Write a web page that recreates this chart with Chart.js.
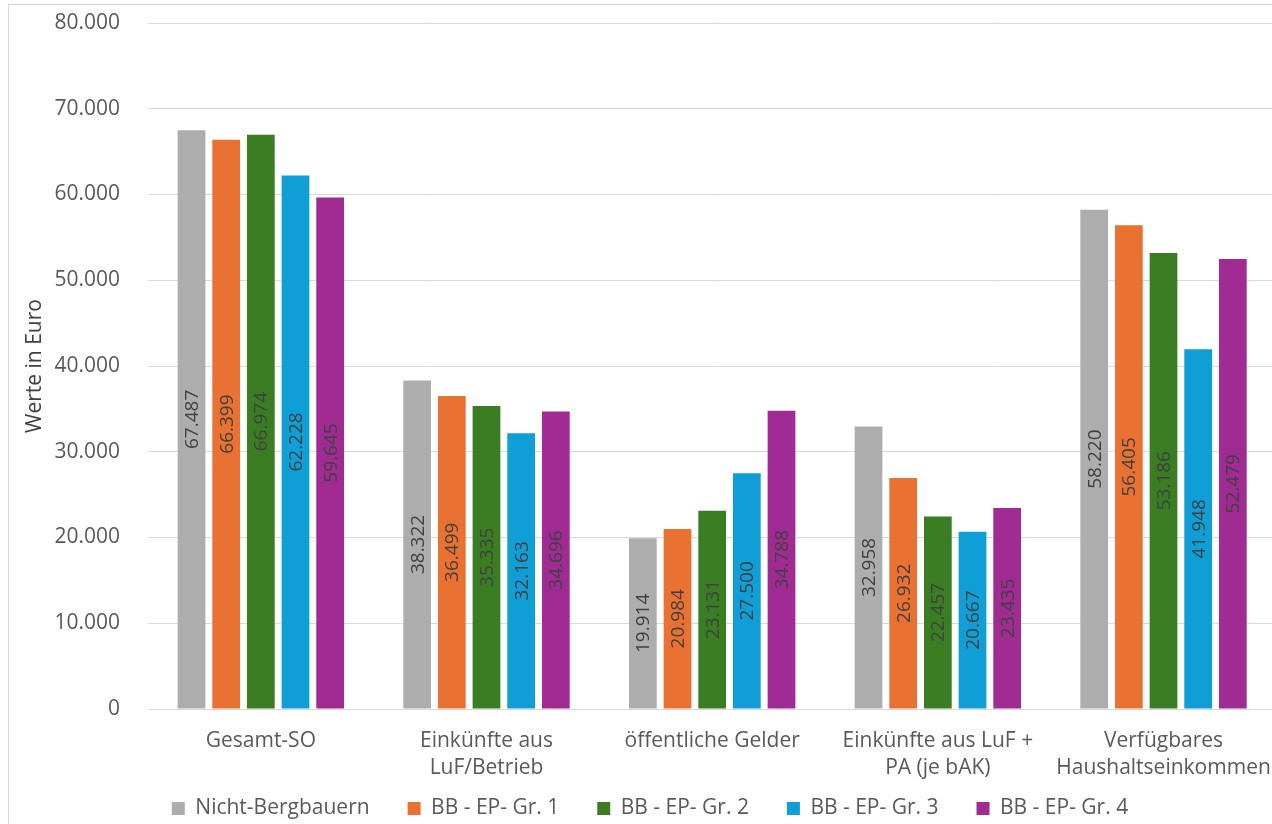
<!DOCTYPE html>
<html>
<head>
<meta charset="utf-8">
<script src="https://cdn.jsdelivr.net/npm/chart.js@4/dist/chart.umd.min.js"></script>
<style>
  html, body { margin: 0; padding: 0; background: #ffffff; overflow: hidden; }
  #wrap { position: relative; width: 1272px; height: 824px; overflow: hidden; background: #fff; }
  #frame { position: absolute; left: 8px; top: 4px; width: 1400px; height: 900px; border: 1px solid #d9d9d9; box-sizing: border-box; }
  #box { position: absolute; left: 0; top: 0; width: 1290px; height: 824px; }
</style>
</head>
<body>
<div id="wrap">
  <div id="frame"></div>
  <div id="box"><canvas id="c" width="1290" height="824"></canvas></div>
</div>
<script>
const categories = [
  "Gesamt-SO",
  ["Einkünfte aus", "LuF/Betrieb"],
  "öffentliche Gelder",
  ["Einkünfte aus LuF +", "PA (je bAK)"],
  ["Verfügbares", "Haushaltseinkommen"]
];
const seriesNames = ["Nicht-Bergbauern", "BB - EP- Gr. 1", "BB - EP- Gr. 2", "BB - EP- Gr. 3", "BB - EP- Gr. 4"];
const nichtBergbauern = [67487, 38322, 19914, 32958, 58220];
const bbGr1 = [66399, 36499, 20984, 26932, 56405];
const bbGr2 = [66974, 35335, 23131, 22457, 53186];
const bbGr3 = [62228, 32163, 27500, 20667, 41948];
const bbGr4 = [59645, 34696, 34788, 23435, 52479];
const seriesColors = ["#ADADAD", "#E97132", "#3B7D23", "#0F9ED5", "#A02B93"];

const FONT = "'Open Sans', 'DejaVu Sans', sans-serif";
function fmt(v) {
  return String(Math.round(v)).replace(/\B(?=(\d{3})+(?!\d))/g, ".");
}

const seriesValues = [nichtBergbauern, bbGr1, bbGr2, bbGr3, bbGr4];

const barLabels = {
  id: 'barLabels',
  afterDatasetsDraw(chart) {
    const ctx = chart.ctx;
    ctx.save();
    ctx.font = "19px " + FONT;
    ctx.fillStyle = "#404040";
    ctx.textAlign = "center";
    ctx.textBaseline = "middle";
    chart.data.datasets.forEach((ds, di) => {
      const meta = chart.getDatasetMeta(di);
      meta.data.forEach((bar, i) => {
        const cy = (bar.y + bar.base) / 2;
        ctx.save();
        ctx.translate(bar.x, cy);
        ctx.rotate(-Math.PI / 2);
        ctx.fillText(fmt(ds.data[i]), 0, 1);
        ctx.restore();
      });
    });
    ctx.restore();
  }
};

new Chart(document.getElementById('c'), {
  type: 'bar',
  data: {
    labels: categories,
    datasets: seriesNames.map((name, k) => ({
      label: name,
      data: seriesValues[k],
      backgroundColor: seriesColors[k],
      borderWidth: 0,
      categoryPercentage: 0.768,
      barPercentage: 0.8
    }))
  },
  options: {
    responsive: false,
    animation: false,
    layout: { padding: { top: 23, right: 12, left: 22, bottom: -5 } },
    plugins: {
      tooltip: { enabled: false },
      legend: {
        position: 'bottom',
        labels: {
          font: { family: FONT, size: 21 },
          color: '#595959',
          boxWidth: 13,
          boxHeight: 13,
          padding: 38
        }
      }
    },
    scales: {
      x: {
        grid: { display: false, drawTicks: false },
        border: { display: true, color: '#d9d9d9', width: 1 },
        ticks: {
          font: { family: FONT, size: 21, lineHeight: 1.29 },
          color: '#595959',
          padding: 18,
          maxRotation: 0,
          minRotation: 0,
          autoSkip: false
        },
        afterFit(scale) {
          scale.height = 51;
          scale._computeLabelArea = () => undefined;
        }
      },
      y: {
        min: 0,
        max: 80000,
        grid: { color: '#d9d9d9', drawTicks: true, tickLength: 28, tickColor: 'rgba(0,0,0,0)', lineWidth: 1 },
        border: { display: false },
        ticks: {
          stepSize: 10000,
          font: { family: FONT, size: 21 },
          color: '#595959',
          padding: 0,
          callback: (v) => fmt(v)
        },
        title: {
          display: true,
          text: 'Werte in Euro',
          font: { family: FONT, size: 21 },
          color: '#404040',
          padding: { top: 0, bottom: 0 }
        },
        afterFit(scale) { scale.width = 126; }
      }
    }
  },
  plugins: [barLabels]
});
</script>
</body>
</html>
